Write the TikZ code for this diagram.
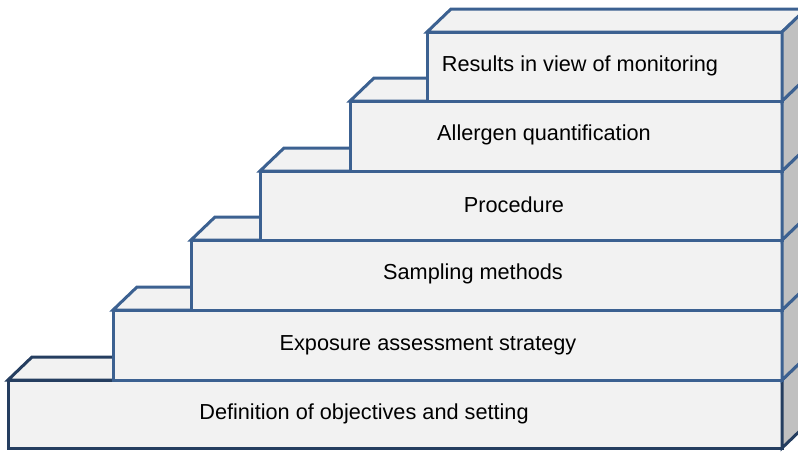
\documentclass[tikz,border=0pt]{standalone}
\usepackage{fontspec}
\setmainfont{Liberation Sans}
\definecolor{edgeA}{RGB}{37,62,96}
\definecolor{edgeB}{RGB}{60,97,145}
\definecolor{facefill}{RGB}{242,242,242}
\definecolor{sidefill}{RGB}{192,192,192}
\tikzset{
  front/.style={draw, fill=facefill, line width=3pt, rectangle, inner sep=0pt, outer sep=0pt, line join=miter},
  topface/.style={draw, fill=facefill, line width=3pt, line join=miter},
  sideface/.style={draw, fill=sidefill, line width=3pt, line join=miter},
  lbl/.style={font=\fontsize{21.7}{24}\selectfont, inner sep=0pt, anchor=center}
}
\newcommand{\stepblock}[2]{%
  \draw[topface,#2] (#1.north west) -- ++(24,-23) -- ([shift={(24,-23)}]#1.north east) -- (#1.north east) -- cycle;
  \draw[sideface,#2] (#1.north east) -- ++(24,-23) -- ([shift={(24,-23)}]#1.south east) -- (#1.south east) -- cycle;
}
\begin{document}
\begin{tikzpicture}[x=1pt,y=-1pt]
\useasboundingbox (0,0) rectangle (798,451);
% box 1
\node[front, draw=edgeA, minimum width=774pt, minimum height=68pt] (b1) at (395,414) {};
\stepblock{b1}{draw=edgeA}
\node[lbl] (t1) at (364,413.5) {Definition of objectives and setting};
% box 2
\node[front, draw=edgeB, minimum width=669pt, minimum height=70pt] (b2) at (447.5,345) {};
\stepblock{b2}{draw=edgeB}
\node[lbl] (t2) at (428,345.5) {Exposure assessment strategy};
% box 3
\node[front, draw=edgeB, minimum width=591pt, minimum height=70pt] (b3) at (486.5,275) {};
\stepblock{b3}{draw=edgeB}
\node[lbl] (t3) at (473,273.5) {Sampling methods};
% box 4
\node[front, draw=edgeB, minimum width=522pt, minimum height=69pt] (b4) at (521,205.5) {};
\stepblock{b4}{draw=edgeB}
\node[lbl] (t4) at (514,204.5) {Procedure};
% box 5
\node[front, draw=edgeB, minimum width=432pt, minimum height=70pt] (b5) at (566,136) {};
\stepblock{b5}{draw=edgeB}
\node[lbl] (t5) at (544,134.5) {Allergen quantification};
% box 6
\node[front, draw=edgeB, minimum width=355pt, minimum height=69pt] (b6) at (604.5,66.5) {};
\stepblock{b6}{draw=edgeB}
\node[lbl] (t6) at (580,66) {Results in view of monitoring};
\end{tikzpicture}
\end{document}
